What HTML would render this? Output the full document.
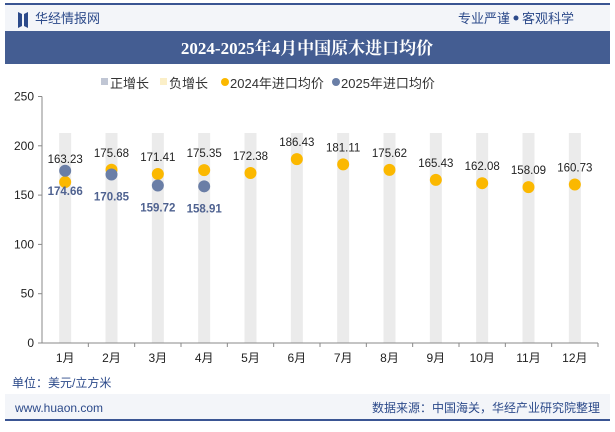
<!DOCTYPE html>
<html><head><meta charset="utf-8"><style>
body{margin:0;width:615px;height:427px;overflow:hidden;background:#fff;font-family:"Liberation Sans","Noto Sans CJK SC",sans-serif;}
</style></head><body>
<svg width="615" height="427" xmlns="http://www.w3.org/2000/svg">
<rect x="5" y="4" width="605" height="28" fill="#f3f5f9"/>
<rect x="5" y="3" width="605" height="2" fill="#3a5593"/>
<path d="M18 12 L22 14 L22 26 L18 28 Z M28 12 L24 14 L24 26 L28 28 Z" fill="#2c4a8a"/>
<text x="35" y="23" font-size="13" fill="#2c4a8a">华经情报网</text>
<text x="510" y="23" font-size="13" fill="#2c4a8a" text-anchor="end">专业严谨</text>
<circle cx="516" cy="18" r="2.5" fill="#2c4a8a"/>
<text x="522" y="23" font-size="13" fill="#2c4a8a">客观科学</text>
<rect x="5" y="31" width="605" height="33" fill="#445d92"/>
<text x="307" y="54" font-size="17" font-weight="bold" fill="#fff" text-anchor="middle" font-family="'Liberation Serif','Noto Serif CJK SC',serif">2024-2025年4月中国原木进口均价</text>
<g font-size="13" fill="#333">
<rect x="101" y="78" width="7" height="7" fill="#c0c6d4"/><text x="110" y="88">正增长</text>
<rect x="160" y="78" width="7" height="7" fill="#fbefc8"/><text x="169" y="88">负增长</text>
<circle cx="225" cy="82" r="4" fill="#fbb800"/><text x="230" y="88">2024年进口均价</text>
<circle cx="336" cy="82" r="4" fill="#6a7ea6"/><text x="341" y="88">2025年进口均价</text>
</g>
<g id="plot"></g>
<text x="12" y="387" font-size="12" fill="#2c4a8a">单位：美元/立方米</text>
<rect x="5" y="394" width="605" height="26" fill="#f3f5f9"/>
<rect x="5" y="419" width="605" height="2" fill="#3a5593"/>
<text x="15" y="412" font-size="12" fill="#2c4a8a">www.huaon.com</text>
<text x="600" y="412" font-size="12" fill="#2c4a8a" text-anchor="end">数据来源：中国海关，华经产业研究院整理</text>
</svg>
<script>
const months=["1月","2月","3月","4月","5月","6月","7月","8月","9月","10月","11月","12月"];
const v2024=[163.23,175.68,171.41,175.35,172.38,186.43,181.11,175.62,165.43,162.08,158.09,160.73];
const v2025=[174.66,170.85,159.72,158.91];
const yTicks=[0,50,100,150,200,250];
const bgMax=213;
const NS="http://www.w3.org/2000/svg",g=document.getElementById("plot");
const x0=42,x1=598,yb=343,yt=96.5;
const step=(x1-x0)/months.length;
const X=i=>x0+step*(i+0.5), Y=v=>yb-(v/250)*(yb-yt);
function el(t,a,txt){const e=document.createElementNS(NS,t);for(const k in a)e.setAttribute(k,a[k]);if(txt!=null)e.textContent=txt;g.appendChild(e);return e;}
months.forEach((m,i)=>{const r=el("rect",{x:X(i)-6,y:Y(bgMax),width:12,height:yb-Y(bgMax),fill:"#ebebeb"});


const t=el("text",{x:X(i),y:362,"font-size":12,fill:"#222","text-anchor":"middle"},m);


el("line",{x1:x0+step*(i+1),x2:x0+step*(i+1),y1:yb,y2:yb+4,stroke:"#888"});});
el("line",{x1:x0,x2:x0,y1:yt,y2:yb,stroke:"#888"});
el("line",{x1:x0,x2:x1,y1:yb,y2:yb,stroke:"#888"});
yTicks.forEach(v=>{el("line",{x1:x0-4,x2:x0,y1:Y(v),y2:Y(v),stroke:"#888"});
const t=el("text",{x:x0-8,y:Y(v)+4,"font-size":12,fill:"#222","text-anchor":"end"},v);

});
v2024.forEach((v,i)=>{const c=el("circle",{cx:X(i),cy:Y(v),r:6,fill:"#fbb800"});


const t=el("text",{x:X(i),y:Y(v)-13-(i==0?6:0),"font-size":11.5,fill:"#222","text-anchor":"middle"},v.toFixed(2));

});
v2025.forEach((v,i)=>{const c=el("circle",{cx:X(i),cy:Y(v),r:6,fill:"#6a7ea6"});


const t=el("text",{x:X(i),y:Y(v)+(i==0?24:26),"font-size":11.5,"font-weight":"bold",fill:"#4f6290","text-anchor":"middle"},v.toFixed(2));

});
</script>
</body></html>
